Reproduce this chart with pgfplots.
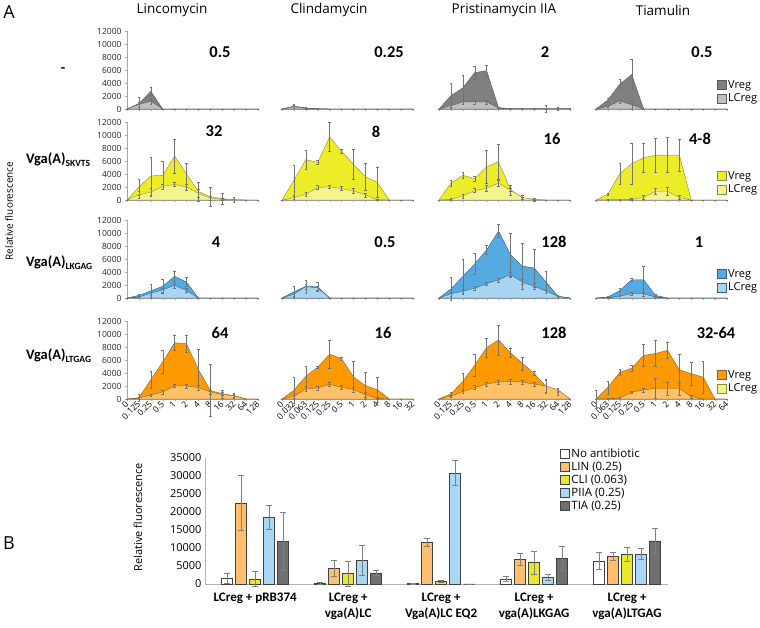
\documentclass[border=0pt]{standalone}
\usepackage{fontspec}
\setmainfont{Carlito}
\newfontfamily\seg{Open Sans}
\usepackage{pgfplots}
\usepackage{pgfplotstable}
\pgfplotsset{compat=1.18}

\definecolor{gD}{RGB}{128,128,128}
\definecolor{gL}{RGB}{191,191,191}
\definecolor{gE}{RGB}{90,90,90}
\definecolor{yD}{RGB}{236,236,40}
\definecolor{yL}{RGB}{244,244,140}
\definecolor{yE}{RGB}{140,140,70}
\definecolor{bD}{RGB}{84,170,225}
\definecolor{bL}{RGB}{168,214,242}
\definecolor{bE}{RGB}{45,95,135}
\definecolor{oD}{RGB}{255,153,0}
\definecolor{oL}{RGB}{255,194,105}
\definecolor{oE}{RGB}{140,95,40}
\definecolor{barO}{RGB}{255,191,110}
\definecolor{barY}{RGB}{232,232,40}
\definecolor{barB}{RGB}{170,215,245}
\definecolor{barK}{RGB}{112,112,112}

% ---------- Panel A data: x, Vreg, err, LCreg, err ----------
\pgfplotstableread{
x v ve l le
0 0 0 0 0
1 850 900 700 400
2 2700 600 1200 400
3 0 0 0 0
4 0 0 0 0
5 0 0 0 0
6 0 0 0 0
7 0 0 0 0
8 0 0 0 0
9 0 0 0 0
10 0 0 0 0
11 0 0 0 0
}\LinA
\pgfplotstableread{
x v ve l le
0 0 0 0 0
1 450 350 350 300
2 150 100 100 100
3 50 50 30 30
4 0 0 0 0
5 0 0 0 0
6 0 0 0 0
7 0 0 0 0
8 0 0 0 0
9 0 0 0 0
10 0 0 0 0
11 0 0 0 0
}\CliA
\pgfplotstableread{
x v ve l le
0 0 0 0 0
1 2050 1900 500 300
2 3250 2000 1100 300
3 5600 1000 1100 300
4 5900 900 1100 300
5 200 100 150 100
6 50 100 0 0
7 50 100 0 0
8 50 100 0 0
9 50 500 0 0
10 50 300 0 0
11 50 100 0 0
}\PriA
\pgfplotstableread{
x v ve l le
0 0 0 0 0
1 1400 300 400 200
2 3850 800 1250 300
3 5300 2300 650 700
4 0 0 0 0
5 0 0 0 0
6 0 0 0 0
7 0 0 0 0
8 0 0 0 0
9 0 0 0 0
10 0 0 0 0
11 0 0 0 0
}\TiaA
\pgfplotstableread{
x v ve l le
0 0 0 0 0
1 2000 1200 800 500
2 3700 2900 1200 600
3 3800 2100 2100 400
4 6750 2600 2400 300
5 4000 1600 2000 500
6 1300 1500 1000 600
7 500 1500 300 300
8 200 800 100 100
9 50 400 50 0
10 0 0 0 0
11 0 0 0 0
}\LinB
\pgfplotstableread{
x v ve l le
0 0 0 0 0
1 3050 2300 350 300
2 6200 1400 900 300
3 5800 300 1900 300
4 9700 2200 2050 300
5 7500 300 1750 300
6 5500 2300 1400 400
7 3600 2100 800 300
8 2700 2300 50 100
9 0 0 0 0
10 0 0 0 0
11 0 0 0 0
}\CliB
\pgfplotstableread{
x v ve l le
0 0 0 0 0
1 2600 500 100 100
2 3800 500 650 300
3 3300 400 1450 300
4 5100 2500 1800 400
5 5900 2700 2600 500
6 1600 200 1500 800
7 300 200 400 300
8 100 100 50 300
9 0 0 0 0
10 0 0 0 0
11 0 0 0 0
}\PriB
\pgfplotstableread{
x v ve l le
0 0 0 0 0
1 900 200 50 50
2 4050 1600 50 50
3 5600 3100 100 100
4 6500 2300 400 300
5 6900 2600 1350 500
6 6900 2700 1350 600
7 6900 2400 400 300
8 0 0 0 0
9 0 0 0 0
10 0 0 0 0
11 0 0 0 0
}\TiaB
\pgfplotstableread{
x v ve l le
0 0 0 0 0
1 400 200 150 100
2 1100 1000 750 300
3 1800 1100 1250 300
4 3350 800 1950 400
5 2450 700 1150 300
6 0 0 0 0
7 0 0 0 0
8 0 0 0 0
9 0 0 0 0
10 0 0 0 0
11 0 0 0 0
}\LinC
\pgfplotstableread{
x v ve l le
0 0 0 0 0
1 950 800 600 300
2 1800 1000 1750 400
3 1700 700 1550 300
4 0 0 0 0
5 0 0 0 0
6 0 0 0 0
7 0 0 0 0
8 0 0 0 0
9 0 0 0 0
10 0 0 0 0
11 0 0 0 0
}\CliC
\pgfplotstableread{
x v ve l le
0 0 0 0 0
1 1400 1800 650 300
2 3300 2700 1050 300
3 5250 1600 1500 300
4 7400 700 2200 300
5 10300 1000 2800 300
6 6650 3300 3600 400
7 4900 3600 2450 400
8 4600 2900 1800 400
9 2450 1700 1050 300
10 250 200 250 100
11 0 0 0 0
}\PriC
\pgfplotstableread{
x v ve l le
0 0 0 0 0
1 150 100 50 50
2 1150 300 300 100
3 2800 200 650 200
4 2800 2100 650 300
5 400 200 150 100
6 0 0 0 0
7 0 0 0 0
8 0 0 0 0
9 0 0 0 0
10 0 0 0 0
11 0 0 0 0
}\TiaC
\pgfplotstableread{
x v ve l le
0 0 0 0 0
1 200 600 150 100
2 2950 1300 600 200
3 5700 1800 1100 300
4 8650 1100 2050 300
5 8500 1300 2000 300
6 4500 3100 1750 400
7 1300 4000 1100 300
8 800 200 700 600
9 500 200 500 400
10 0 0 0 0
11 0 0 0 0
}\LinD
\pgfplotstableread{
x v ve l le
0 0 0 0 0
1 1350 2000 400 300
2 3500 1500 1550 300
3 4900 200 1700 300
4 6900 2100 2250 300
5 6200 300 1800 300
6 3400 2400 1450 400
7 2050 2100 650 400
8 1450 1900 100 100
9 0 0 0 0
10 0 0 0 0
11 0 0 0 0
}\CliD
\pgfplotstableread{
x v ve l le
0 0 0 0 0
1 800 300 450 200
2 2700 1300 1150 300
3 5200 1700 1750 300
4 7900 1400 2300 300
5 9100 2300 2600 300
6 7100 700 2700 400
7 5500 1000 2600 300
8 3900 300 2300 300
9 1900 1000 2000 1000
10 900 300 1400 300
11 0 0 0 0
}\PriD
\pgfplotstableread{
x v ve l le
0 0 1400 0 0
1 1800 1000 50 50
2 4100 500 150 100
3 4750 500 1050 200
4 6700 1700 1400 300
5 7000 2000 1650 1500
6 7500 1300 1650 1000
7 4500 2400 1650 1000
8 3900 1800 350 300
9 3350 2500 0 0
10 0 0 0 0
11 0 0 0 0
}\TiaD

% ---------- Panel B data ----------
\pgfplotstableread{
g w we o oe y ye b be k ke
0 1650 1400 22500 7600 1450 2000 18500 3400 11900 8000
1 300 300 4400 2200 2850 3500 6500 4200 3100 700
2 100 100 11600 1200 650 300 30900 3400 0 0
3 1450 800 6900 1700 6000 3200 1900 900 7200 3400
4 6450 2400 7650 1100 8300 1900 8300 1500 11950 3400
}\PanelB

\pgfplotsset{
  sqlegend/.style={legend image code/.code={\draw[##1] (0pt,-4.5pt) rectangle (9pt,4.5pt);}},
  errb/.style={draw=none, mark=none,
    error bars/y dir=both, error bars/y explicit,
    error bars/error bar style={line width=0.4pt, draw=black!55},
    error bars/error mark options={rotate=90, mark size=1.3pt, line width=0.4pt, draw=black!55}},
  smallax/.style={anchor=south west, scale only axis, width=131pt, height=78pt,
    xmin=0, xmax=11, ymin=0, ymax=12000,
    axis x line*=bottom, axis y line*=left,
    axis line style={draw=black!35, line width=0.5pt},
    xtick={0,...,11}, xticklabels={}, ytick={0,2000,...,12000},
    major tick length=2pt, tick style={draw=black!35}, tick align=outside,
    yticklabel style={font=\seg\fontsize{8.5}{9}\selectfont, text=black!85},
    /pgf/number format/1000 sep={}, /pgf/number format/assume math mode=true,
    scaled y ticks=false, clip=false, no markers,
    every axis plot/.append style={line width=0.4pt}},
  rowlegend/.style={legend style={at={(rel axis cs:0.924,#1)}, anchor=north west, draw=none, fill=none,
    font=\seg\fontsize{11}{12}\selectfont, inner sep=0pt, row sep=1pt,
    nodes={inner sep=1.5pt}}, legend cell align=left},
  botlab/.style={xticklabels={#1},
    xticklabel style={font=\seg\fontsize{8.5}{9}\selectfont, rotate=45, anchor=east, inner sep=1pt, yshift=-1pt}},
}

\newcommand{\sub}[8]{%
\begin{axis}[smallax, at={(#1pt,#2pt)}, #7]
#8
\addplot[forget plot, fill=#4, draw=#6] table[x=x,y=v]{#3} \closedcycle;
\addplot[forget plot, fill=#5, draw=#6] table[x=x,y=l]{#3} \closedcycle;
\addplot[forget plot, errb] table[x=x,y=v,y error=ve]{#3};
\addplot[forget plot, errb] table[x=x,y=l,y error=le]{#3};
\end{axis}}

\newcommand{\rlab}[1]{\fontsize{14.5}{16}\selectfont\bfseries Vga(A)\raisebox{-3pt}{\fontsize{9.5}{10}\selectfont #1}}

\begin{document}
\begin{tikzpicture}[x=1pt,y=1pt]
\path[use as bounding box] (0,0) rectangle (760,628);

% titles and labels
\node[font=\seg\fontsize{18}{20}\selectfont] at (9,616) {A};
\node[font=\seg\fontsize{18}{20}\selectfont] at (9,85) {B};
\node[font=\seg\fontsize{13.5}{15}\selectfont] at (172,618) {Lincomycin};
\node[font=\seg\fontsize{13.5}{15}\selectfont] at (329,618) {Clindamycin};
\node[font=\seg\fontsize{13.5}{15}\selectfont] at (504,618) {Pristinamycin IIA};
\node[font=\seg\fontsize{13.5}{15}\selectfont] at (663,618) {Tiamulin};
\node[font=\seg\fontsize{10}{12}\selectfont, rotate=90] at (9,417) {Relative fluorescence};

% row labels
\node[font=\fontsize{14.5}{16}\selectfont\bfseries] at (63,558) {-};
\node[anchor=base west, inner sep=0pt] at (26,464) {\rlab{SKVTS}};
\node[anchor=base west, inner sep=0pt] at (26,361) {\rlab{LKGAG}};
\node[anchor=base west, inner sep=0pt] at (26,268) {\rlab{LTGAG}};

% MIC numbers
\begin{scope}[every node/.style={font=\fontsize{16.5}{18}\selectfont\bfseries}]
\node at (220,576) {0.5};
\node at (389,576) {0.25};
\node at (545,576) {2};
\node at (702,576) {0.5};
\node at (214,497) {32};
\node at (376,496) {8};
\node at (552,489) {16};
\node at (700,489) {4-8};
\node at (216,386) {4};
\node at (385,386) {0.5};
\node at (554,386) {128};
\node at (699,386) {1};
\node at (220,295) {64};
\node at (383,295) {16};
\node at (554,295) {128};
\node at (716,295) {32-64};
\end{scope}

% Row 1
\sub{127}{519}{\LinA}{gD}{gL}{gE}{}{}
\sub{282}{519}{\CliA}{gD}{gL}{gE}{hide y axis}{}
\sub{439}{519}{\PriA}{gD}{gL}{gE}{hide y axis}{}
\sub{596}{519}{\TiaA}{gD}{gL}{gE}{hide y axis, rowlegend=0.39}{\addlegendimage{sqlegend, fill=gD, draw=gE}\addlegendentry{Vreg}\addlegendimage{sqlegend, fill=gL, draw=gE}\addlegendentry{LCreg}}
% Row 2
\sub{127}{428}{\LinB}{yD}{yL}{yE}{}{}
\sub{282}{428}{\CliB}{yD}{yL}{yE}{hide y axis}{}
\sub{439}{428}{\PriB}{yD}{yL}{yE}{hide y axis}{}
\sub{596}{428}{\TiaB}{yD}{yL}{yE}{hide y axis, rowlegend=0.39}{\addlegendimage{sqlegend, fill=yD, draw=yE}\addlegendentry{Vreg}\addlegendimage{sqlegend, fill=yL, draw=yE}\addlegendentry{LCreg}}
% Row 3
\sub{127}{330}{\LinC}{bD}{bL}{bE}{}{}
\sub{282}{330}{\CliC}{bD}{bL}{bE}{hide y axis}{}
\sub{439}{330}{\PriC}{bD}{bL}{bE}{hide y axis}{}
\sub{596}{330}{\TiaC}{bD}{bL}{bE}{hide y axis, rowlegend=0.39}{\addlegendimage{sqlegend, fill=bD, draw=bE}\addlegendentry{Vreg}\addlegendimage{sqlegend, fill=bL, draw=bE}\addlegendentry{LCreg}}
% Row 4
\sub{127}{229}{\LinD}{oD}{oL}{oE}{botlab={0,0.125,0.25,0.5,1,2,4,8,16,32,64,128}}{}
\sub{282}{229}{\CliD}{oD}{oL}{oE}{hide y axis, botlab={0,0.032,0.063,0.125,0.25,0.5,1,2,4,8,16,32}}{}
\sub{439}{229}{\PriD}{oD}{oL}{oE}{hide y axis, botlab={0,0.125,0.25,0.5,1,2,4,8,16,32,64,128}}{}
\sub{596}{229}{\TiaD}{oD}{oL}{oE}{hide y axis, rowlegend=0.39, botlab={0,0.063,0.125,0.25,0.5,1,2,4,8,16,32,64}}{\addlegendimage{sqlegend, fill=oD, draw=oE}\addlegendentry{Vreg}\addlegendimage{sqlegend, fill=yL, draw=yE}\addlegendentry{LCreg}}

% Panel B
\node[font=\seg\fontsize{11}{12}\selectfont, rotate=90] at (138,111) {Relative fluorescence};
\begin{axis}[at={(205pt,44pt)}, anchor=south west, scale only axis, width=463pt, height=126pt,
  ymin=0, ymax=35000, xmin=-0.54, xmax=4.44,
  ybar=3pt, bar width=11pt,
  axis x line*=bottom, axis y line*=left,
  axis line style={draw=black!30, line width=0.6pt},
  ytick={0,5000,...,35000}, xtick={0,...,4},
  xticklabels={LCreg + pRB374, LCreg +\\vga(A)LC, LCreg +\\Vga(A)LC EQ2, LCreg +\\vga(A)LKGAG, LCreg +\\vga(A)LTGAG},
  xticklabel style={align=center, font=\fontsize{13}{16}\selectfont\bfseries, anchor=north, yshift=-5pt},
  yticklabel style={font=\seg\fontsize{11}{12}\selectfont},
  major tick length=0pt,
  /pgf/number format/1000 sep={}, /pgf/number format/assume math mode=true,
  scaled y ticks=false, clip=false,
  legend style={at={(rel axis cs:0.767,1.09)}, anchor=north west, draw=none, fill=none,
    font=\seg\fontsize{11.5}{12}\selectfont, inner sep=0pt, row sep=0pt, nodes={inner sep=1.6pt}},
  legend cell align=left,
  every axis plot/.append style={draw=black!75, line width=0.5pt,
    error bars/y dir=both, error bars/y explicit,
    error bars/error bar style={draw=black!50, line width=0.6pt},
    error bars/error mark options={rotate=90, mark size=3pt, draw=black!50, line width=0.6pt}},
]
\addplot[fill=white, sqlegend] table[x=g,y=w,y error=we]{\PanelB};
\addplot[fill=barO, sqlegend] table[x=g,y=o,y error=oe]{\PanelB};
\addplot[fill=barY, sqlegend] table[x=g,y=y,y error=ye]{\PanelB};
\addplot[fill=barB, sqlegend] table[x=g,y=b,y error=be]{\PanelB};
\addplot[fill=barK, sqlegend] table[x=g,y=k,y error=ke]{\PanelB};
\legend{No antibiotic, LIN (0.25), CLI (0.063), PIIA (0.25), TIA (0.25)}
\end{axis}
\end{tikzpicture}
\end{document}
